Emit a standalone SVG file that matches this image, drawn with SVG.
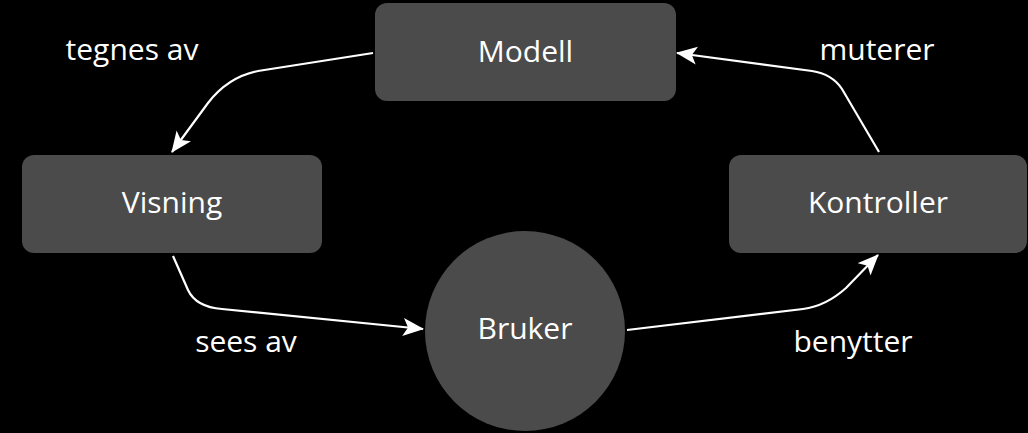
<svg xmlns="http://www.w3.org/2000/svg" width="1028" height="433" viewBox="0 0 1028 433">
<style>
.node{fill:#4b4b4b}
.t{font-family:"Open Sans","Noto Sans",sans-serif;font-size:30px;fill:#ffffff;text-anchor:middle}
.c{fill:none;stroke:#ffffff;stroke-width:2.2}
</style>
<defs>
<marker id="ah" markerUnits="userSpaceOnUse" markerWidth="24" markerHeight="20" refX="20" refY="9" orient="auto" viewBox="0 0 24 20">
<path d="M0,0 L21,9 L0,18 L5,9 Z" fill="#ffffff"/>
</marker>
</defs>
<rect x="0" y="0" width="1028" height="433" fill="#000000"/>
<g id="connectors">
<path class="c" d="M373,53 L258,71 Q228,77 208,103 L172,152" marker-end="url(#ah)"/>
<path class="c" d="M173,256 L188,290 Q196,307 222,309 L423,329" marker-end="url(#ah)"/>
<path class="c" d="M627,330 L803,309 Q826,306 846,288 L878,255" marker-end="url(#ah)"/>
<path class="c" d="M879,152 L842,89 Q832,74 812,71 L677,53" marker-end="url(#ah)"/>
</g>
<g id="node-modell">
<rect class="node" x="375" y="3" width="301" height="98" rx="12"/>
<text class="t" x="525.5" y="62">Modell</text>
</g>
<g id="node-visning">
<rect class="node" x="22" y="155" width="300" height="98" rx="12"/>
<text class="t" x="172" y="213">Visning</text>
</g>
<g id="node-kontroller">
<rect class="node" x="729" y="155" width="298" height="98" rx="12"/>
<text class="t" x="878" y="213">Kontroller</text>
</g>
<g id="node-bruker">
<circle class="node" cx="525" cy="331" r="100"/>
<text class="t" x="525" y="339">Bruker</text>
</g>
<g id="labels">
<text class="t" x="132" y="60">tegnes av</text>
<text class="t" x="877" y="60">muterer</text>
<text class="t" x="246" y="352">sees av</text>
<text class="t" x="853" y="352">benytter</text>
</g>
</svg>
